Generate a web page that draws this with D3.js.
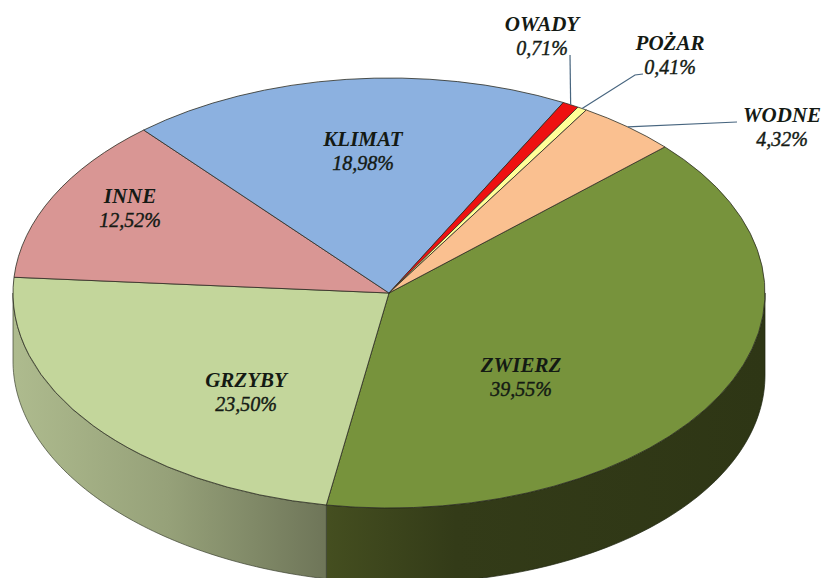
<!DOCTYPE html>
<html><head><meta charset="utf-8">
<script src="https://cdn.jsdelivr.net/npm/d3@7/dist/d3.min.js"></script>
<style>html,body{margin:0;padding:0;background:#fff;overflow:hidden}
text{font-family:"Liberation Serif",serif;font-style:italic;fill:#141a14;text-anchor:middle}
.n{font-weight:700;font-size:21px}.v{font-weight:400;font-size:20px;stroke:#141a14;stroke-width:.4px}</style>
</head><body><svg id="c" width="827" height="578"></svg>
<script>
const categories = ["ZWIERZ","GRZYBY","INNE","KLIMAT","OWADY","POŻAR","WODNE"];
const values = [39.55,23.50,12.52,18.98,0.71,0.41,4.32];
const valueLabels = ["39,55%","23,50%","12,52%","18,98%","0,71%","0,41%","4,32%"];
const colors = ["#77933c","#c3d69b","#d99694","#8cb1e0","#ee1111","#ffff99","#fac090"];

const W=827,H=578,cx=389,cy=293,rx=376,ry=215,depth=75,tilt=7;
const start=47.2*Math.PI/180;
const labelPos={ZWIERZ:[521,372],GRZYBY:[246,387],INNE:[130,203],KLIMAT:[363,146],OWADY:[542,31],"POŻAR":[670,50],WODNE:[782,122]};
const leaders={OWADY:[[570,55]],"POŻAR":[[643,74],[635,75]],WODNE:[[737,122]]};

const svg=d3.select("#c");
const defs=svg.append("defs");
function grad(id,x1,x2,stops){
  const g=defs.append("linearGradient").attr("id",id).attr("gradientUnits","userSpaceOnUse")
    .attr("x1",x1).attr("x2",x2).attr("y1",0).attr("y2",0);
  stops.forEach(s=>g.append("stop").attr("offset",s[0]).attr("stop-color",s[1]));
}
grad("gSide",13,323,[[0,"#aebb8e"],[0.5,"#96a179"],[1,"#6f7659"]]);
grad("zSide",323,765,[[0,"#454f20"],[0.3,"#333b18"],[1,"#2e3615"]]);

const arcsData=d3.pie().value(d=>d.v).sort(null).startAngle(start).endAngle(start+2*Math.PI)(
  categories.map((c,i)=>({c,v:values[i],l:valueLabels[i],col:colors[i]})));
const px=a=>cx+rx*Math.sin(a), py=a=>cy-ry*Math.cos(a);

function wall(a0,a1){
  const n=80,top=[],bot=[];
  for(let i=0;i<=n;i++){const a=a0+(a1-a0)*i/n;top.push([px(a),py(a)]);bot.push([px(a),py(a)+depth+tilt*Math.sin(a)]);}
  return d3.line()(top.concat(bot.reverse()))+"Z";
}
const A=arcsData;
const front0=Math.PI/2, front1=3*Math.PI/2;
svg.append("path").attr("d",wall(front0,A[0].endAngle)).attr("fill","url(#zSide)").attr("stroke","#1d2410").attr("stroke-width",.7);
svg.append("path").attr("d",wall(A[1].startAngle,front1)).attr("fill","url(#gSide)").attr("stroke","#3c4230").attr("stroke-width",.7);

const arc=d3.arc().innerRadius(0).outerRadius(rx);
svg.append("g").attr("transform",`translate(${cx},${cy}) scale(1,${ry/rx})`)
 .selectAll("path").data(arcsData).join("path")
 .attr("d",arc).attr("fill",d=>d.data.col)
 .attr("stroke","#2c2c22").attr("stroke-width",.8).attr("vector-effect","non-scaling-stroke");

const leaderG=svg.append("g");
arcsData.forEach(d=>{
  const L=leaders[d.data.c]; if(!L) return;
  const m=(d.startAngle+d.endAngle)/2;
  leaderG.append("path").attr("d",d3.line()(L.concat([[px(m),py(m)]])))
   .attr("fill","none").attr("stroke","#47657f").attr("stroke-width",1.2);
});

const tg=svg.append("g").selectAll("g").data(arcsData).join("g")
 .attr("transform",d=>`translate(${labelPos[d.data.c]})`);
tg.append("text").attr("class","n").text(d=>d.data.c);
tg.append("text").attr("class","v").attr("y",24).text(d=>d.data.l);
</script></body></html>
